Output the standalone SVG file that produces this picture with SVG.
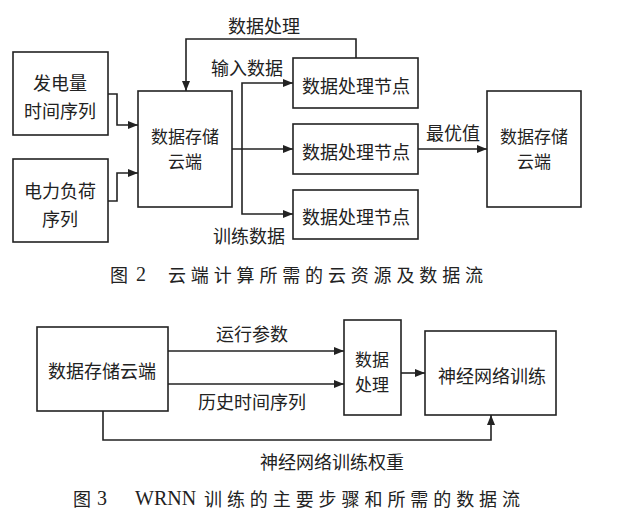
<svg xmlns="http://www.w3.org/2000/svg" width="628" height="532" viewBox="0 0 628 532">
<defs>
<marker id="arr" markerWidth="10" markerHeight="8" refX="10" refY="4" orient="auto" markerUnits="userSpaceOnUse">
<path d="M0,0 L10,4 L0,8 Z" fill="#222"/>
</marker>
<style>
rect{fill:#fff;stroke:#222;stroke-width:1.6}
.c path{fill:none;stroke:#222;stroke-width:1.6}
text{font-family:"Noto Sans CJK SC","Liberation Sans",sans-serif;font-size:18px;fill:#222;text-anchor:middle;dominant-baseline:central}
.t2{font-size:17px}
.cap{font-size:18px;text-anchor:start}
.lat{font-family:"Liberation Serif",serif;font-size:20px;text-anchor:start}
</style>
</defs>
<rect x="0" y="0" width="628" height="532" style="stroke:none"/>

<g id="n_gen"><rect x="13" y="52" width="95" height="83"/><text x="60" y="82">发电量</text><text x="60" y="110">时间序列</text></g>
<g id="n_load"><rect x="13" y="159" width="95" height="83"/><text x="60" y="190">电力负荷</text><text x="60" y="218">序列</text></g>
<g id="n_cloud1"><rect x="138" y="91" width="94" height="116"/><text class="t2" x="185" y="135">数据存储</text><text class="t2" x="185" y="160">云端</text></g>
<g id="n_proc1"><rect x="293" y="58" width="125" height="50"/><text x="356" y="85">数据处理节点</text></g>
<g id="n_proc2"><rect x="293" y="124" width="125" height="50"/><text x="356" y="151">数据处理节点</text></g>
<g id="n_proc3"><rect x="293" y="190" width="125" height="49"/><text x="356" y="216">数据处理节点</text></g>
<g id="n_cloud2"><rect x="487" y="91" width="94" height="116"/><text class="t2" x="534" y="135">数据存储</text><text class="t2" x="534" y="160">云端</text></g>

<g id="n_cloud3"><rect x="37" y="327" width="131" height="84"/><text x="102" y="370">数据存储云端</text></g>
<g id="n_dp"><rect x="344" y="320" width="57" height="95"/><text class="t2" x="372" y="358">数据</text><text class="t2" x="372" y="383">处理</text></g>
<g id="n_nn"><rect x="425" y="331" width="131" height="84"/><text x="492" y="375">神经网络训练</text></g>

<g class="c" id="connectors">
<path d="M108,94 H117 V125 H138" marker-end="url(#arr)"/>
<path d="M108,201 H117 V173 H138" marker-end="url(#arr)"/>
<path d="M232,149 H293" marker-end="url(#arr)"/>
<path d="M242,149 V83 H293" marker-end="url(#arr)"/>
<path d="M242,149 V214 H293" marker-end="url(#arr)"/>
<path d="M356,58 V39 H186 V91" marker-end="url(#arr)"/>
<path d="M418,149 H487" marker-end="url(#arr)"/>
<path d="M168,351 H344" marker-end="url(#arr)"/>
<path d="M168,384 H344" marker-end="url(#arr)"/>
<path d="M401,373 H425" marker-end="url(#arr)"/>
<path d="M103,411 V440 H491 V415" marker-end="url(#arr)"/>
</g>

<g id="labels">
<text x="264" y="25">数据处理</text>
<text x="247" y="67">输入数据</text>
<text x="249" y="235">训练数据</text>
<text x="453" y="132">最优值</text>
<text x="252" y="333">运行参数</text>
<text x="252" y="401">历史时间序列</text>
<text x="332" y="461">神经网络训练权重</text>
</g>

<g id="captions">
<text class="cap" x="110" y="274">图</text>
<text class="lat" x="136" y="274">2</text>
<text class="cap" x="168" y="274" textLength="315" lengthAdjust="spacing">云端计算所需的云资源及数据流</text>
<text class="cap" x="73" y="498">图</text>
<text class="lat" x="97" y="498">3</text>
<text class="lat" x="135" y="498">WRNN</text>
<text class="cap" x="204" y="498" textLength="316" lengthAdjust="spacing">训练的主要步骤和所需的数据流</text>
</g>
</svg>
